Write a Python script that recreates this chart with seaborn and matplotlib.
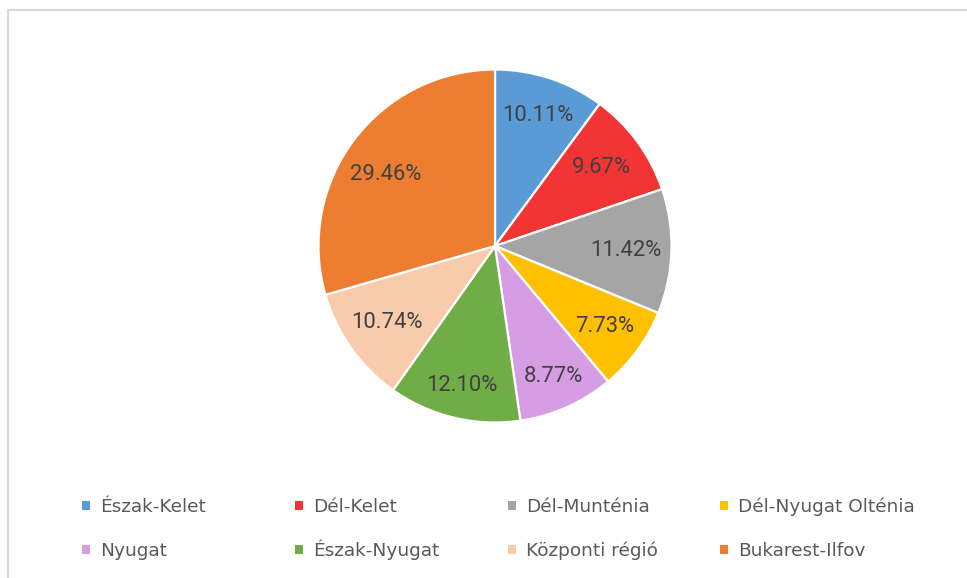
import matplotlib
matplotlib.use("Agg")
import numpy as np
import matplotlib.pyplot as plt
from matplotlib.patches import Patch, Rectangle
import seaborn as sns

# data
regions = ["Észak-Kelet", "Dél-Kelet", "Dél-Munténia", "Dél-Nyugat Olténia",
           "Nyugat", "Észak-Nyugat", "Központi régió", "Bukarest-Ilfov"]
shares = [10.11, 9.67, 11.42, 7.73, 8.77, 12.10, 10.74, 29.46]
colors = ["#5B9BD5", "#F33434", "#A5A5A5", "#FFC000",
          "#D69DE4", "#70AD47", "#F8CBAD", "#ED7D31"]

# label placement (Excel "best fit" look): radial distance and angle nudge
label_dist = [0.78, 0.75, 0.74, 0.77, 0.81, 0.81, 0.75, 0.74]
label_turn = [0, 0, 0, 0, 0, 0, 0, 4]

sns.set_style("white")
plt.rcParams['font.family'] = ['DejaVu Sans']

W, H = 967, 578
fig = plt.figure(figsize=(W / 100, H / 100), dpi=100)

# light grey chart border (only top and left visible in the crop)
fig.patches.append(Rectangle((7.5 / W, -0.1), 1.2, 1 - 9.5 / H + 0.1,
                             transform=fig.transFigure, fill=False,
                             edgecolor="#D9D9D9", linewidth=1.5))

# pie axes, centre (495, 246), radius ~176.5 px
R = 176.5
cx, cy = 495, 246
ax = fig.add_axes([(cx - R) / W, (H - cy - R) / H, 2 * R / W, 2 * R / H])
wedges, texts, autotexts = ax.pie(
    shares, colors=colors, startangle=90, counterclock=False,
    autopct=lambda p: f"{p:.2f}%", pctdistance=0.75,
    wedgeprops=dict(edgecolor="white", linewidth=1.6),
    textprops=dict(color="#404040", fontsize=15.8, family="Roboto"))
for w, t, d, turn in zip(wedges, autotexts, label_dist, label_turn):
    ang = np.deg2rad((w.theta1 + w.theta2) / 2 + turn)
    t.set_position((d * np.cos(ang), d * np.sin(ang)))
ax.set_xlim(-1, 1)
ax.set_ylim(-1, 1)
ax.set_aspect("equal")
ax.axis("off")

# legend: four evenly spaced columns, two rows; one entry per legend,
# anchored at the bottom so accented labels keep a common baseline
col_x = [82, 295, 508, 720]
row_bottom = [516, 560]
for i, (name, col) in enumerate(zip(regions, colors)):
    r, c = divmod(i, 4)
    fig.legend([Patch(facecolor=col, edgecolor="none")], [name],
               loc="lower left",
               bbox_to_anchor=(col_x[c] / W, 1 - row_bottom[r] / H),
               frameon=False, fontsize=13.3,
               handlelength=0.42, handleheight=0.42, handletextpad=0.55,
               borderpad=0, borderaxespad=0, labelcolor="#595959")

fig.savefig("out.png", dpi=100)
